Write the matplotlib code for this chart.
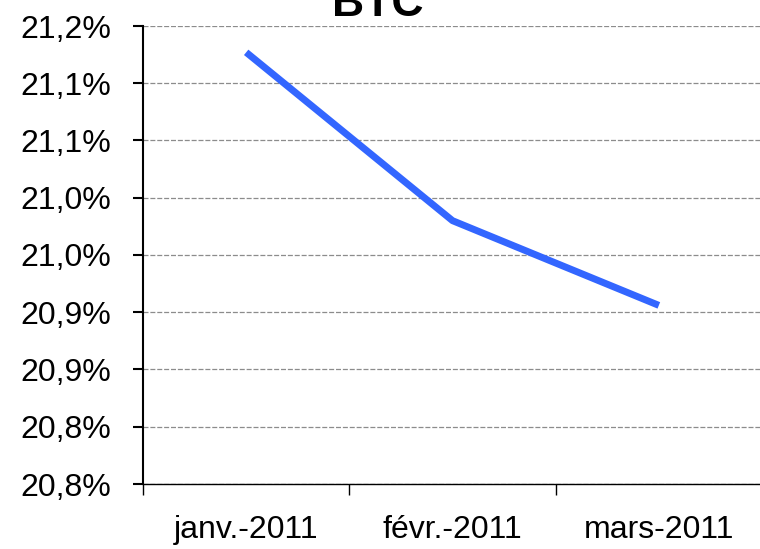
import numpy as np
import matplotlib.pyplot as plt

plt.rcParams['font.family'] = ['Liberation Sans', 'DejaVu Sans']

months = ['janv.-2011', 'févr.-2011', 'mars-2011']
btc = [21.127, 20.980, 20.906]

yticks = [20.75, 20.80, 20.85, 20.90, 20.95, 21.00, 21.05, 21.10, 21.15]
ylabels = ['20,8%', '20,8%', '20,9%', '20,9%', '21,0%', '21,0%', '21,1%', '21,1%', '21,2%']

fig = plt.figure(figsize=(7.6, 5.49), dpi=100)
ax = fig.add_axes([143/760, 65/549, 619/760, 458/549])

x = np.arange(len(months))
ax.plot(x, btc, color='#3366ff', lw=5, solid_capstyle='butt', zorder=3)

ax.set_xlim(-0.5, len(months) - 0.5)
ax.set_ylim(yticks[0], yticks[-1])

ax.set_yticks(yticks)
ax.set_yticklabels(ylabels)
ax.grid(axis='y', color='#8c8c8c', ls=(0, (4, 1.5)), lw=0.9)

# category boundaries carry the tick marks, labels sit in between
ax.set_xticks(np.arange(len(months) + 1) - 0.5)
ax.set_xticklabels([])
ax.set_xticks(x, minor=True)
ax.set_xticklabels(months, minor=True)
ax.tick_params(axis='x', which='major', length=8, width=1)
ax.tick_params(axis='x', which='minor', length=0, pad=22, labelsize=23)
ax.tick_params(axis='y', length=7, width=1.5, pad=16, labelsize=23)

for s in ['top', 'right']:
    ax.spines[s].set_visible(False)
ax.spines['left'].set_linewidth(1.5)
ax.spines['bottom'].set_linewidth(1.0)
ax.spines['bottom'].set_clip_on(False)

fig.text(378/760, 533/549, 'BTC', ha='center', va='baseline',
         fontsize=32, fontweight='bold')

fig.savefig('out.png', dpi=100)
